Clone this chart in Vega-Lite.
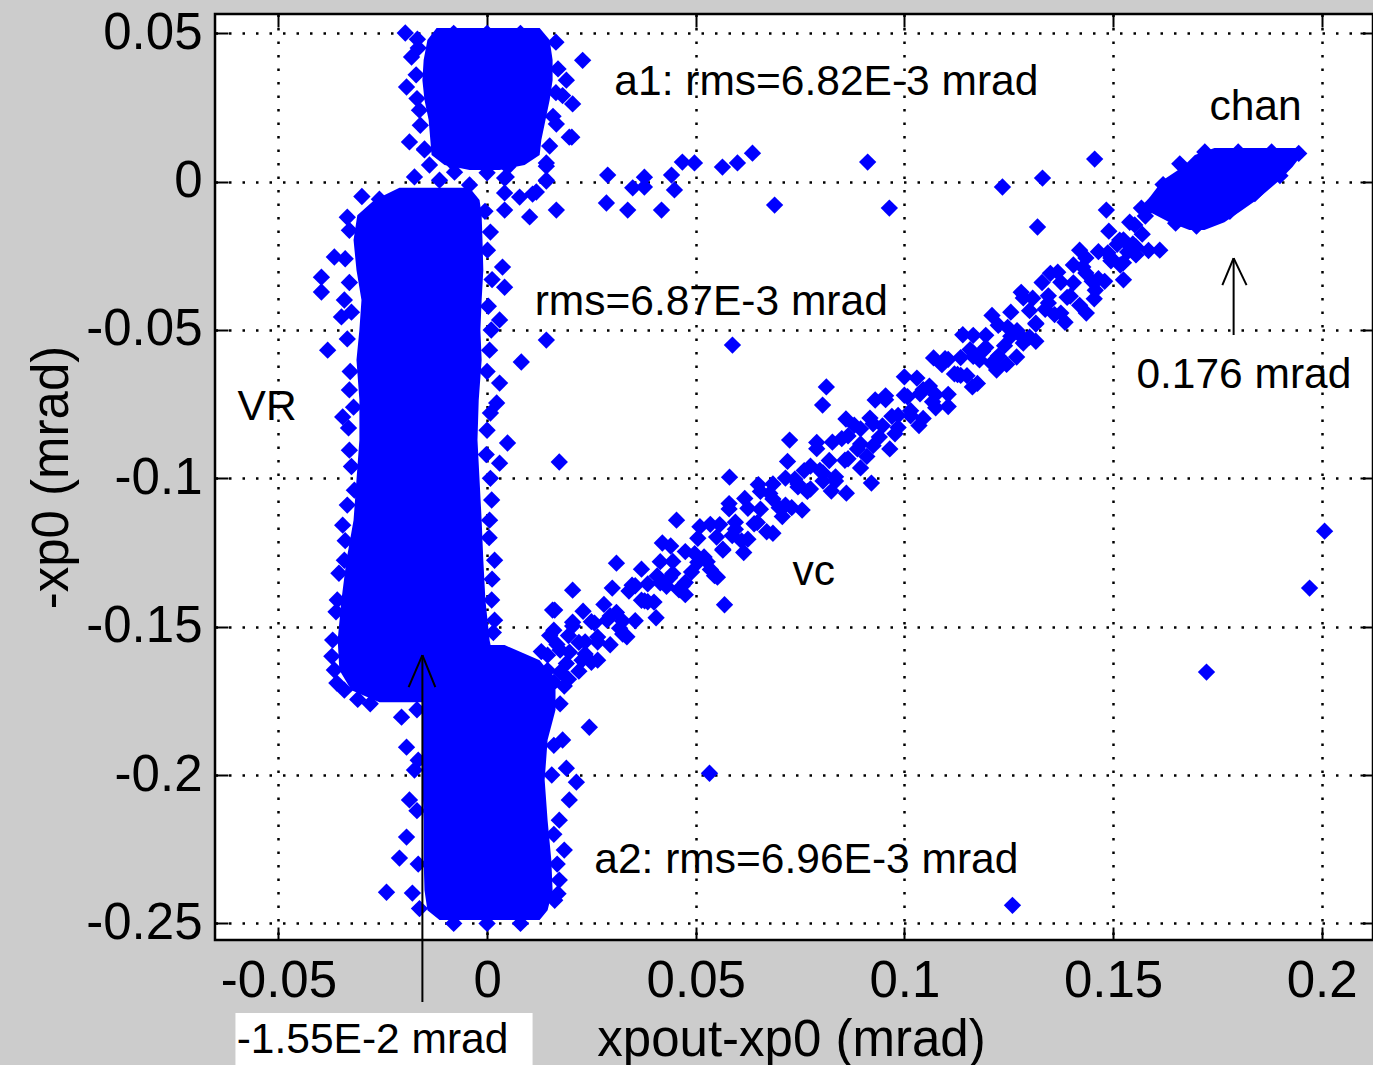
{
  "$schema": "https://vega.github.io/schema/vega-lite/v6.json",
  "width": 1158,
  "height": 926,
  "autosize": {"type": "none"},
  "padding": {"left": 215, "top": 14, "right": 0, "bottom": 125},
  "background": "#cccccc",
  "config": {
    "view": {"stroke": "black", "strokeWidth": 2.5, "fill": "white"}
  },
  "datasets": {
    "core": [
      {"blob": "a1", "y": 0.0518, "xl": -0.0121, "xr": 0.0126},
      {"blob": "a1", "y": 0.0477, "xl": -0.0143, "xr": 0.0150},
      {"blob": "a1", "y": 0.0410, "xl": -0.0152, "xr": 0.0157},
      {"blob": "a1", "y": 0.0342, "xl": -0.0155, "xr": 0.0157},
      {"blob": "a1", "y": 0.0275, "xl": -0.0150, "xr": 0.0150},
      {"blob": "a1", "y": 0.0208, "xl": -0.0140, "xr": 0.0140},
      {"blob": "a1", "y": 0.0140, "xl": -0.0136, "xr": 0.0130},
      {"blob": "a1", "y": 0.0090, "xl": -0.0133, "xr": 0.0126},
      {"blob": "a1", "y": 0.0056, "xl": -0.0102, "xr": 0.0090},
      {"blob": "a1", "y": 0.0039, "xl": -0.0042, "xr": 0.0030},
      {"blob": "vr", "y": -0.0021, "xl": -0.0210, "xr": -0.0042},
      {"blob": "vr", "y": -0.0062, "xl": -0.0270, "xr": -0.0018},
      {"blob": "vr", "y": -0.0113, "xl": -0.0311, "xr": -0.0013},
      {"blob": "vr", "y": -0.0197, "xl": -0.0320, "xr": -0.0011},
      {"blob": "vr", "y": -0.0298, "xl": -0.0313, "xr": -0.0009},
      {"blob": "vr", "y": -0.0399, "xl": -0.0301, "xr": -0.0013},
      {"blob": "vr", "y": -0.0500, "xl": -0.0306, "xr": -0.0016},
      {"blob": "vr", "y": -0.0601, "xl": -0.0313, "xr": -0.0013},
      {"blob": "vr", "y": -0.0736, "xl": -0.0306, "xr": -0.0020},
      {"blob": "vr", "y": -0.0871, "xl": -0.0306, "xr": -0.0023},
      {"blob": "vr", "y": -0.1006, "xl": -0.0313, "xr": -0.0018},
      {"blob": "vr", "y": -0.1141, "xl": -0.0320, "xr": -0.0013},
      {"blob": "vr", "y": -0.1276, "xl": -0.0337, "xr": -0.0009},
      {"blob": "vr", "y": -0.1410, "xl": -0.0349, "xr": -0.0004},
      {"blob": "vr", "y": -0.1545, "xl": -0.0358, "xr": 0.0006},
      {"blob": "vr", "y": -0.1646, "xl": -0.0354, "xr": 0.0020},
      {"blob": "vr", "y": -0.1714, "xl": -0.0325, "xr": 0.0025},
      {"blob": "vr", "y": -0.1755, "xl": -0.0258, "xr": -0.0042},
      {"blob": "a2", "y": -0.1562, "xl": -0.0006, "xr": 0.0042},
      {"blob": "a2", "y": -0.1613, "xl": -0.0018, "xr": 0.0126},
      {"blob": "a2", "y": -0.1663, "xl": -0.0042, "xr": 0.0154},
      {"blob": "a2", "y": -0.1714, "xl": -0.0152, "xr": 0.0164},
      {"blob": "a2", "y": -0.1781, "xl": -0.0155, "xr": 0.0164},
      {"blob": "a2", "y": -0.1882, "xl": -0.0155, "xr": 0.0145},
      {"blob": "a2", "y": -0.2017, "xl": -0.0155, "xr": 0.0138},
      {"blob": "a2", "y": -0.2152, "xl": -0.0152, "xr": 0.0145},
      {"blob": "a2", "y": -0.2287, "xl": -0.0152, "xr": 0.0154},
      {"blob": "a2", "y": -0.2388, "xl": -0.0150, "xr": 0.0157},
      {"blob": "a2", "y": -0.2456, "xl": -0.0143, "xr": 0.0145},
      {"blob": "a2", "y": -0.2489, "xl": -0.0114, "xr": 0.0126},
      {"blob": "chan", "y": 0.0113, "xl": 0.1743, "xr": 0.1943},
      {"blob": "chan", "y": 0.0090, "xl": 0.1696, "xr": 0.1952},
      {"blob": "chan", "y": 0.0049, "xl": 0.1667, "xr": 0.1930},
      {"blob": "chan", "y": 0.0005, "xl": 0.1619, "xr": 0.1899},
      {"blob": "chan", "y": -0.0062, "xl": 0.1583, "xr": 0.1844},
      {"blob": "chan", "y": -0.0102, "xl": 0.1588, "xr": 0.1803},
      {"blob": "chan", "y": -0.0137, "xl": 0.1635, "xr": 0.1767},
      {"blob": "chan", "y": -0.0163, "xl": 0.1683, "xr": 0.1719}
    ],
    "pts": [
      {"x": 0.0130, "y": -0.1584}, {"x": 0.0145, "y": -0.1647}, {"x": 0.0160, "y": -0.1688}, {"x": 0.0175, "y": -0.1579},
      {"x": 0.0190, "y": -0.1624}, {"x": 0.0205, "y": -0.1485}, {"x": 0.0220, "y": -0.1553}, {"x": 0.0235, "y": -0.1592},
      {"x": 0.0250, "y": -0.1483}, {"x": 0.0265, "y": -0.1535}, {"x": 0.0280, "y": -0.1425}, {"x": 0.0295, "y": -0.1561},
      {"x": 0.0310, "y": -0.1452}, {"x": 0.0325, "y": -0.1481}, {"x": 0.0340, "y": -0.1380}, {"x": 0.0355, "y": -0.1480},
      {"x": 0.0370, "y": -0.1411}, {"x": 0.0385, "y": -0.1356}, {"x": 0.0400, "y": -0.1417}, {"x": 0.0415, "y": -0.1281},
      {"x": 0.0430, "y": -0.1364}, {"x": 0.0445, "y": -0.1321}, {"x": 0.0460, "y": -0.1376}, {"x": 0.0475, "y": -0.1247},
      {"x": 0.0490, "y": -0.1316}, {"x": 0.0505, "y": -0.1202}, {"x": 0.0520, "y": -0.1265}, {"x": 0.0535, "y": -0.1307},
      {"x": 0.0550, "y": -0.1198}, {"x": 0.0565, "y": -0.1242}, {"x": 0.0580, "y": -0.1103}, {"x": 0.0595, "y": -0.1172},
      {"x": 0.0610, "y": -0.1211}, {"x": 0.0625, "y": -0.1101}, {"x": 0.0640, "y": -0.1153}, {"x": 0.0655, "y": -0.1044},
      {"x": 0.0670, "y": -0.1180}, {"x": 0.0685, "y": -0.1070}, {"x": 0.0700, "y": -0.1099}, {"x": 0.0715, "y": -0.0999},
      {"x": 0.0730, "y": -0.1099}, {"x": 0.0745, "y": -0.1029}, {"x": 0.0760, "y": -0.0974}, {"x": 0.0775, "y": -0.1036},
      {"x": 0.0790, "y": -0.0900}, {"x": 0.0805, "y": -0.0982}, {"x": 0.0820, "y": -0.0940}, {"x": 0.0835, "y": -0.0995},
      {"x": 0.0850, "y": -0.0866}, {"x": 0.0865, "y": -0.0934}, {"x": 0.0880, "y": -0.0821}, {"x": 0.0895, "y": -0.0884},
      {"x": 0.0910, "y": -0.0926}, {"x": 0.0925, "y": -0.0816}, {"x": 0.0940, "y": -0.0861}, {"x": 0.0955, "y": -0.0722},
      {"x": 0.0970, "y": -0.0791}, {"x": 0.0985, "y": -0.0829}, {"x": 0.1000, "y": -0.0720}, {"x": 0.1015, "y": -0.0772},
      {"x": 0.1030, "y": -0.0662}, {"x": 0.1045, "y": -0.0798}, {"x": 0.1060, "y": -0.0689}, {"x": 0.1075, "y": -0.0718},
      {"x": 0.1090, "y": -0.0617}, {"x": 0.1105, "y": -0.0717}, {"x": 0.1120, "y": -0.0648}, {"x": 0.1135, "y": -0.0593},
      {"x": 0.1150, "y": -0.0654}, {"x": 0.1165, "y": -0.0518}, {"x": 0.1180, "y": -0.0601}, {"x": 0.1195, "y": -0.0559},
      {"x": 0.1210, "y": -0.0613}, {"x": 0.1225, "y": -0.0484}, {"x": 0.1240, "y": -0.0553}, {"x": 0.1255, "y": -0.0440},
      {"x": 0.1270, "y": -0.0502}, {"x": 0.1285, "y": -0.0544}, {"x": 0.1300, "y": -0.0435}, {"x": 0.1315, "y": -0.0480},
      {"x": 0.1330, "y": -0.0340}, {"x": 0.1345, "y": -0.0409}, {"x": 0.1360, "y": -0.0448}, {"x": 0.1375, "y": -0.0339},
      {"x": 0.1390, "y": -0.0390}, {"x": 0.1405, "y": -0.0281}, {"x": 0.1420, "y": -0.0417}, {"x": 0.1435, "y": -0.0308},
      {"x": 0.1450, "y": -0.0336}, {"x": 0.1465, "y": -0.0236}, {"x": 0.1480, "y": -0.0336}, {"x": 0.1495, "y": -0.0267},
      {"x": 0.1510, "y": -0.0211}, {"x": 0.1525, "y": -0.0273}, {"x": 0.1540, "y": -0.0137}, {"x": 0.1555, "y": -0.0220},
      {"x": 0.1570, "y": -0.0177}, {"x": 0.1585, "y": -0.0232},
      {"x": 0.01375, "y": -0.1664}, {"x": 0.01675, "y": -0.1560}, {"x": 0.01975, "y": -0.1586}, {"x": 0.02275, "y": -0.1613},
      {"x": 0.02575, "y": -0.1488}, {"x": 0.02875, "y": -0.1478}, {"x": 0.03175, "y": -0.1505}, {"x": 0.03475, "y": -0.1360},
      {"x": 0.03775, "y": -0.1413}, {"x": 0.04075, "y": -0.1329}, {"x": 0.04375, "y": -0.1335}, {"x": 0.04675, "y": -0.1363},
      {"x": 0.04975, "y": -0.1254}, {"x": 0.05275, "y": -0.1281}, {"x": 0.05575, "y": -0.1156}, {"x": 0.05875, "y": -0.1193},
      {"x": 0.06175, "y": -0.1068}, {"x": 0.06475, "y": -0.1149}, {"x": 0.06775, "y": -0.1051}, {"x": 0.07075, "y": -0.1129},
      {"x": 0.07375, "y": -0.1003}, {"x": 0.07675, "y": -0.1044}, {"x": 0.07975, "y": -0.0973}, {"x": 0.08275, "y": -0.0878},
      {"x": 0.08575, "y": -0.0939}, {"x": 0.08875, "y": -0.0901}, {"x": 0.09175, "y": -0.0797}, {"x": 0.09475, "y": -0.0823},
      {"x": 0.09775, "y": -0.0850}, {"x": 0.10075, "y": -0.0725}, {"x": 0.10375, "y": -0.0715}, {"x": 0.10675, "y": -0.0742},
      {"x": 0.10975, "y": -0.0597}, {"x": 0.11275, "y": -0.0650}, {"x": 0.11575, "y": -0.0566}, {"x": 0.11875, "y": -0.0572},
      {"x": 0.12175, "y": -0.0600}, {"x": 0.12475, "y": -0.0491}, {"x": 0.12775, "y": -0.0518}, {"x": 0.13075, "y": -0.0393},
      {"x": 0.13375, "y": -0.0430}, {"x": 0.13675, "y": -0.0305}, {"x": 0.13975, "y": -0.0386}, {"x": 0.14275, "y": -0.0288},
      {"x": 0.14575, "y": -0.0366}, {"x": 0.14875, "y": -0.0240}, {"x": 0.15175, "y": -0.0281}, {"x": 0.15475, "y": -0.0210},
      {"x": 0.15775, "y": -0.0116},
      {"x": 0.0145, "y": -0.1596}, {"x": 0.0175, "y": -0.1653}, {"x": 0.0205, "y": -0.1498}, {"x": 0.0235, "y": -0.1551},
      {"x": 0.0265, "y": -0.1552}, {"x": 0.0295, "y": -0.1464}, {"x": 0.0325, "y": -0.1525}, {"x": 0.0355, "y": -0.1362},
      {"x": 0.0385, "y": -0.1416}, {"x": 0.0415, "y": -0.1352}, {"x": 0.0445, "y": -0.1280}, {"x": 0.0475, "y": -0.1351},
      {"x": 0.0505, "y": -0.1283}, {"x": 0.0535, "y": -0.1155}, {"x": 0.0565, "y": -0.1239}, {"x": 0.0595, "y": -0.1148},
      {"x": 0.0625, "y": -0.1205}, {"x": 0.0655, "y": -0.1104}, {"x": 0.0685, "y": -0.1019}, {"x": 0.0715, "y": -0.1090},
      {"x": 0.0745, "y": -0.1019}, {"x": 0.0775, "y": -0.0959}, {"x": 0.0805, "y": -0.1009}, {"x": 0.0835, "y": -0.1009},
      {"x": 0.0865, "y": -0.0857}, {"x": 0.0895, "y": -0.0833}, {"x": 0.0925, "y": -0.0890}, {"x": 0.0955, "y": -0.0735},
      {"x": 0.0985, "y": -0.0788}, {"x": 0.1015, "y": -0.0789}, {"x": 0.1045, "y": -0.0701}, {"x": 0.1075, "y": -0.0762},
      {"x": 0.1105, "y": -0.0599}, {"x": 0.1135, "y": -0.0653}, {"x": 0.1165, "y": -0.0589}, {"x": 0.1195, "y": -0.0518},
      {"x": 0.1225, "y": -0.0588}, {"x": 0.1255, "y": -0.0521}, {"x": 0.1285, "y": -0.0392}, {"x": 0.1315, "y": -0.0477},
      {"x": 0.1345, "y": -0.0385}, {"x": 0.1375, "y": -0.0443}, {"x": 0.1405, "y": -0.0341}, {"x": 0.1435, "y": -0.0257},
      {"x": 0.1465, "y": -0.0327}, {"x": 0.1495, "y": -0.0257}, {"x": 0.1525, "y": -0.0196}, {"x": 0.1555, "y": -0.0247},
      {"x": 0.0160, "y": -0.1512}, {"x": 0.0195, "y": -0.1677}, {"x": 0.0230, "y": -0.1448}, {"x": 0.0265, "y": -0.1613},
      {"x": 0.0300, "y": -0.1370}, {"x": 0.0335, "y": -0.1534}, {"x": 0.0370, "y": -0.1306}, {"x": 0.0405, "y": -0.1470},
      {"x": 0.0440, "y": -0.1228}, {"x": 0.0475, "y": -0.1392}, {"x": 0.0510, "y": -0.1163}, {"x": 0.0545, "y": -0.1328},
      {"x": 0.0580, "y": -0.1085}, {"x": 0.0615, "y": -0.1250}, {"x": 0.0650, "y": -0.1021}, {"x": 0.0685, "y": -0.1185},
      {"x": 0.0720, "y": -0.0943}, {"x": 0.0755, "y": -0.1107}, {"x": 0.0790, "y": -0.0879}, {"x": 0.0825, "y": -0.1043},
      {"x": 0.0860, "y": -0.0800}, {"x": 0.0895, "y": -0.0965}, {"x": 0.0930, "y": -0.0736}, {"x": 0.0965, "y": -0.0901},
      {"x": 0.1000, "y": -0.0658}, {"x": 0.1035, "y": -0.0822}, {"x": 0.1070, "y": -0.0594}, {"x": 0.1105, "y": -0.0758},
      {"x": 0.1140, "y": -0.0516}, {"x": 0.1175, "y": -0.0680}, {"x": 0.1210, "y": -0.0451}, {"x": 0.1245, "y": -0.0616},
      {"x": 0.1280, "y": -0.0373}, {"x": 0.1315, "y": -0.0538}, {"x": 0.1350, "y": -0.0309}, {"x": 0.1385, "y": -0.0474},
      {"x": 0.1420, "y": -0.0231}, {"x": 0.1455, "y": -0.0395}, {"x": 0.1490, "y": -0.0167}, {"x": 0.1525, "y": -0.0331},
      {"x": 0.0150, "y": -0.1530}, {"x": 0.0185, "y": -0.1700}, {"x": 0.0220, "y": -0.1650}, {"x": 0.0250, "y": -0.1620},
      {"x": 0.0120, "y": -0.1650}, {"x": 0.0100, "y": -0.1700}, {"x": 0.0130, "y": -0.1720}, {"x": 0.0195, "y": -0.1530},
      {"x": 0.0552, "y": -0.1333}, {"x": 0.0569, "y": -0.1426}, {"x": 0.0420, "y": -0.1218}, {"x": 0.0454, "y": -0.1141},
      {"x": 0.0310, "y": -0.1286}, {"x": 0.0205, "y": -0.1377}, {"x": 0.0162, "y": -0.1444}, {"x": 0.0861, "y": -0.1050},
      {"x": 0.0921, "y": -0.1016}, {"x": 0.0725, "y": -0.0871}, {"x": 0.0581, "y": -0.0996}, {"x": 0.0813, "y": -0.0692},
      {"x": 0.0804, "y": -0.0753},
      {"x": 0.1456, "y": 0.0076}, {"x": 0.1331, "y": 0.0012}, {"x": 0.1235, "y": -0.0018}, {"x": 0.0964, "y": -0.0089},
      {"x": 0.1319, "y": -0.0153}, {"x": 0.1484, "y": -0.0096}, {"x": 0.1568, "y": -0.0089}, {"x": 0.1300, "y": -0.0524},
      {"x": 0.1269, "y": -0.0591}, {"x": 0.1221, "y": -0.0635}, {"x": 0.1163, "y": -0.0692}, {"x": 0.1436, "y": -0.0443},
      {"x": 0.1516, "y": -0.0197}, {"x": 0.1552, "y": -0.0146}, {"x": 0.1612, "y": -0.0231}, {"x": 0.1535, "y": -0.0237},
      {"x": 0.0203, "y": 0.0150}, {"x": 0.0142, "y": 0.0063}, {"x": 0.0142, "y": 0.0005}, {"x": 0.0118, "y": -0.0035},
      {"x": 0.0078, "y": -0.0052}, {"x": 0.0042, "y": 0.0012}, {"x": 0.0042, "y": -0.0038}, {"x": 0.0042, "y": -0.0096},
      {"x": 0.0102, "y": -0.0119}, {"x": 0.0166, "y": -0.0096}, {"x": 0.0289, "y": 0.0022}, {"x": 0.0286, "y": -0.0072},
      {"x": 0.0337, "y": -0.0096}, {"x": 0.0349, "y": -0.0021}, {"x": 0.0377, "y": 0.0015}, {"x": 0.0377, "y": -0.0018},
      {"x": 0.0418, "y": -0.0096}, {"x": 0.0442, "y": 0.0022}, {"x": 0.0449, "y": -0.0028}, {"x": 0.0468, "y": 0.0066},
      {"x": 0.0497, "y": 0.0063}, {"x": 0.0564, "y": 0.0049}, {"x": 0.0600, "y": 0.0063}, {"x": 0.0636, "y": 0.0096},
      {"x": 0.0689, "y": -0.0079}, {"x": 0.0912, "y": 0.0066},
      {"x": 0.0142, "y": -0.0534}, {"x": 0.0082, "y": -0.0608}, {"x": 0.0173, "y": -0.0945}, {"x": 0.0588, "y": -0.0551},
      {"x": 0.0245, "y": -0.1839}, {"x": 0.0533, "y": -0.1994}, {"x": 0.1259, "y": -0.2439}, {"x": 0.1724, "y": -0.1653},
      {"x": 0.1971, "y": -0.1370}, {"x": 0.2007, "y": -0.1178}, {"x": 0.0214, "y": -0.2024}, {"x": 0.0190, "y": -0.1977},
      {"x": 0.0181, "y": -0.1882}, {"x": 0.0157, "y": -0.1444},
      {"x": -0.0397, "y": -0.0322}, {"x": -0.0397, "y": -0.0372}, {"x": -0.0366, "y": -0.0254}, {"x": -0.0349, "y": -0.0456},
      {"x": -0.0382, "y": -0.0568}, {"x": -0.0330, "y": -0.0702}, {"x": -0.0346, "y": -0.0793}, {"x": -0.0346, "y": -0.1158},
      {"x": -0.0318, "y": -0.1040}, {"x": -0.0330, "y": -0.0164}, {"x": -0.0342, "y": -0.0399}, {"x": -0.0330, "y": -0.0905},
      {"x": -0.0342, "y": -0.1276}, {"x": -0.0359, "y": -0.1410}, {"x": -0.0370, "y": -0.1545}, {"x": -0.0366, "y": -0.1646},
      {"x": -0.0342, "y": -0.1714},
      {"x": -0.0300, "y": -0.0050}, {"x": -0.0335, "y": -0.0120}, {"x": -0.0340, "y": -0.0260}, {"x": -0.0330, "y": -0.0340},
      {"x": -0.0325, "y": -0.0440}, {"x": -0.0335, "y": -0.0530}, {"x": -0.0328, "y": -0.0640}, {"x": -0.0320, "y": -0.0760},
      {"x": -0.0332, "y": -0.0830}, {"x": -0.0325, "y": -0.0960}, {"x": -0.0335, "y": -0.1090}, {"x": -0.0340, "y": -0.1210},
      {"x": -0.0355, "y": -0.1320}, {"x": -0.0362, "y": -0.1450}, {"x": -0.0372, "y": -0.1600}, {"x": -0.0360, "y": -0.1690},
      {"x": -0.0310, "y": -0.1745}, {"x": -0.0280, "y": -0.1760},
      {"x": -0.0005, "y": -0.0100}, {"x": 0.0008, "y": -0.0170}, {"x": 0.0012, "y": -0.0330}, {"x": 0.0003, "y": -0.0420},
      {"x": 0.0010, "y": -0.0500}, {"x": 0.0000, "y": -0.0640}, {"x": 0.0008, "y": -0.0780}, {"x": -0.0002, "y": -0.0920},
      {"x": 0.0008, "y": -0.1000}, {"x": 0.0005, "y": -0.1200}, {"x": 0.0012, "y": -0.1340}, {"x": 0.0015, "y": -0.1520},
      {"x": 0.0037, "y": -0.0288}, {"x": 0.0042, "y": -0.0356}, {"x": 0.0030, "y": -0.0466}, {"x": 0.0030, "y": -0.0679},
      {"x": 0.0023, "y": -0.0746}, {"x": 0.0049, "y": -0.0881}, {"x": 0.0030, "y": -0.0949}, {"x": 0.0006, "y": -0.1141},
      {"x": 0.0018, "y": -0.1276}, {"x": 0.0011, "y": -0.1410}, {"x": 0.0001, "y": -0.0231}, {"x": 0.0006, "y": -0.0568},
      {"x": 0.0000, "y": -0.0838}, {"x": 0.0011, "y": -0.1073}, {"x": 0.0018, "y": -0.1478},
      {"x": -0.0241, "y": -0.2395}, {"x": -0.0210, "y": -0.2280}, {"x": -0.0193, "y": -0.2209}, {"x": -0.0193, "y": -0.1906},
      {"x": -0.0205, "y": -0.1805}, {"x": -0.0179, "y": -0.2398}, {"x": -0.0186, "y": -0.2084}, {"x": -0.0174, "y": -0.1983},
      {"x": -0.0168, "y": -0.1780}, {"x": -0.0165, "y": -0.1950}, {"x": -0.0168, "y": -0.2120}, {"x": -0.0165, "y": -0.2300},
      {"x": -0.0162, "y": -0.2450},
      {"x": 0.0173, "y": -0.2152}, {"x": 0.0185, "y": -0.2253}, {"x": 0.0173, "y": -0.2354}, {"x": 0.0162, "y": -0.2422},
      {"x": 0.0197, "y": -0.2084}, {"x": 0.0175, "y": -0.1760}, {"x": 0.0160, "y": -0.1900}, {"x": 0.0155, "y": -0.2000},
      {"x": 0.0160, "y": -0.2200}, {"x": 0.0168, "y": -0.2300}, {"x": 0.0170, "y": -0.2400},
      {"x": -0.0080, "y": -0.2500}, {"x": 0.0000, "y": -0.2500}, {"x": 0.0080, "y": -0.2500},
      {"x": -0.0196, "y": 0.0501}, {"x": -0.0167, "y": 0.0480}, {"x": -0.0181, "y": 0.0420}, {"x": -0.0193, "y": 0.0319},
      {"x": -0.0186, "y": 0.0134}, {"x": 0.0229, "y": 0.0409}, {"x": 0.0190, "y": 0.0342}, {"x": 0.0181, "y": 0.0290},
      {"x": 0.0205, "y": 0.0262}, {"x": 0.0197, "y": 0.0150}, {"x": 0.0166, "y": 0.0194}, {"x": 0.0142, "y": 0.0052},
      {"x": 0.0142, "y": 0.0002}, {"x": 0.0109, "y": -0.0042}, {"x": 0.0046, "y": 0.0016}, {"x": -0.0174, "y": 0.0016},
      {"x": -0.0258, "y": -0.0059}, {"x": -0.0162, "y": 0.0241}, {"x": -0.0150, "y": 0.0107}, {"x": -0.0138, "y": 0.0056},
      {"x": -0.0114, "y": 0.0005}, {"x": -0.0078, "y": 0.0032}, {"x": -0.0042, "y": -0.0011},
      {"x": -0.0165, "y": 0.0450}, {"x": -0.0170, "y": 0.0360}, {"x": -0.0168, "y": 0.0280}, {"x": -0.0160, "y": 0.0190},
      {"x": -0.0150, "y": 0.0110}, {"x": 0.0165, "y": 0.0470}, {"x": 0.0170, "y": 0.0380}, {"x": 0.0165, "y": 0.0300},
      {"x": 0.0158, "y": 0.0220}, {"x": 0.0150, "y": 0.0120}, {"x": -0.0080, "y": 0.0500}, {"x": 0.0000, "y": 0.0500},
      {"x": 0.0080, "y": 0.0500}, {"x": -0.0080, "y": 0.0060}, {"x": 0.0050, "y": 0.0050}, {"x": 0.0000, "y": 0.0030},
      {"x": 0.1590, "y": -0.0080}, {"x": 0.1620, "y": -0.0010}, {"x": 0.1660, "y": 0.0060}, {"x": 0.1720, "y": 0.0100},
      {"x": 0.1800, "y": 0.0100}, {"x": 0.1880, "y": 0.0100}, {"x": 0.1945, "y": 0.0095}, {"x": 0.1900, "y": 0.0020},
      {"x": 0.1840, "y": -0.0040}, {"x": 0.1780, "y": -0.0100}, {"x": 0.1700, "y": -0.0150}, {"x": 0.1650, "y": -0.0140}
    ],
    "notes": [
      {"t": "a1: rms=6.82E-3 mrad", "x": 0.0305, "y": 0.0292},
      {"t": "chan", "x": 0.1731, "y": 0.0208},
      {"t": "rms=6.87E-3 mrad", "x": 0.0114, "y": -0.0450},
      {"t": "0.176 mrad", "x": 0.1556, "y": -0.0696},
      {"t": "VR", "x": -0.0598, "y": -0.0804},
      {"t": "vc", "x": 0.0732, "y": -0.1360},
      {"t": "a2: rms=6.96E-3 mrad", "x": 0.0257, "y": -0.2331}
    ],
    "arrows": [
      {"x": -0.0155, "y": -0.2765, "x2": -0.0155, "y2": -0.1596},
      {"x": -0.0155, "y": -0.1596, "x2": -0.0188, "y2": -0.1704},
      {"x": -0.0155, "y": -0.1596, "x2": -0.0124, "y2": -0.1704},
      {"x": 0.1789, "y": -0.0517, "x2": 0.1789, "y2": -0.0258},
      {"x": 0.1789, "y": -0.0258, "x2": 0.1762, "y2": -0.0349},
      {"x": 0.1789, "y": -0.0258, "x2": 0.1820, "y2": -0.0349}
    ],
    "box": [
      {"t": "-1.55E-2 mrad", "x": -0.0603, "x2": 0.0109, "y": -0.2802, "y2": -0.3000, "tx": -0.0600, "ty": -0.2937}
    ]
  },
  "resolve": {"axis": {"x": "independent", "y": "independent"}},
  "layer": [
    {
      "data": {"name": "core"},
      "mark": {"type": "area", "orient": "horizontal", "color": "#0000ff", "opacity": 1},
      "encoding": {
        "y": {"field": "y", "type": "quantitative",
          "scale": {"domain": [-0.2556, 0.0565], "nice": false, "zero": false},
          "axis": {"orient": "left", "values": [-0.25, -0.2, -0.15, -0.1, -0.05, 0, 0.05], "format": "~g",
            "labelExpr": "replace(datum.label, '\u2212', '-')",
            "grid": true, "gridColor": "black", "gridDash": [2.5, 11], "gridWidth": 2.5, "gridOpacity": 1,
            "domain": false, "ticks": true, "tickSize": -13, "tickColor": "black", "tickWidth": 2,
            "labelPadding": 26, "labelFont": "Liberation Sans", "labelFontSize": 51, "labelColor": "black",
            "labelFlush": false, "labelOverlap": false, "labelBaseline": "middle",
            "title": "-xp0 (mrad)", "titleFont": "Liberation Sans", "titleFontSize": 51, "titleFontWeight": "normal",
            "titleColor": "black", "titleX": -148, "titleY": 463, "titleAngle": 270, "titleBaseline": "alphabetic", "titleAlign": "center"}},
        "x": {"field": "xl", "type": "quantitative",
          "scale": {"domain": [-0.0652, 0.2123], "nice": false, "zero": false},
          "axis": {"orient": "bottom", "values": [-0.05, 0, 0.05, 0.1, 0.15, 0.2], "format": "~g",
            "labelExpr": "replace(datum.label, '\u2212', '-')",
            "grid": true, "gridColor": "black", "gridDash": [2.5, 11], "gridWidth": 2.5, "gridOpacity": 1,
            "domain": false, "ticks": true, "tickSize": -13, "tickColor": "black", "tickWidth": 2,
            "labelPadding": 29, "labelFont": "Liberation Sans", "labelFontSize": 51, "labelColor": "black",
            "labelFlush": false, "labelOverlap": false,
            "title": "xpout-xp0 (mrad)", "titleFont": "Liberation Sans", "titleFontSize": 51, "titleFontWeight": "normal",
            "titleColor": "black", "titleX": 576, "titleY": 115, "titleBaseline": "alphabetic", "titleAlign": "center"}},
        "x2": {"field": "xr"},
        "detail": {"field": "blob", "type": "nominal"}
      }
    },
    {
      "data": {"name": "pts"},
      "mark": {"type": "point", "shape": "diamond", "filled": true, "size": 300, "color": "#0000ff", "opacity": 1, "strokeWidth": 0},
      "encoding": {
        "x": {"field": "x", "type": "quantitative",
          "scale": {"domain": [-0.0652, 0.2123], "nice": false, "zero": false},
          "axis": {"orient": "top", "values": [-0.05, 0, 0.05, 0.1, 0.15, 0.2], "labels": false, "grid": false,
            "domain": false, "ticks": true, "tickSize": -13, "tickColor": "black", "tickWidth": 2, "title": null}},
        "y": {"field": "y", "type": "quantitative",
          "scale": {"domain": [-0.2556, 0.0565], "nice": false, "zero": false},
          "axis": {"orient": "right", "values": [-0.25, -0.2, -0.15, -0.1, -0.05, 0, 0.05], "labels": false, "grid": false,
            "domain": false, "ticks": true, "tickSize": -13, "tickColor": "black", "tickWidth": 2, "title": null}}
      }
    },
    {
      "data": {"name": "arrows"},
      "mark": {"type": "rule", "color": "black", "strokeWidth": 2},
      "encoding": {
        "x": {"field": "x", "type": "quantitative", "scale": {"domain": [-0.0652, 0.2123], "nice": false, "zero": false}, "axis": null},
        "y": {"field": "y", "type": "quantitative", "scale": {"domain": [-0.2556, 0.0565], "nice": false, "zero": false}, "axis": null},
        "x2": {"field": "x2"},
        "y2": {"field": "y2"}
      }
    },
    {
      "data": {"name": "notes"},
      "mark": {"type": "text", "align": "left", "baseline": "alphabetic", "font": "Liberation Sans", "fontSize": 42.5, "color": "black"},
      "encoding": {
        "x": {"field": "x", "type": "quantitative", "scale": {"domain": [-0.0652, 0.2123], "nice": false, "zero": false}, "axis": null},
        "y": {"field": "y", "type": "quantitative", "scale": {"domain": [-0.2556, 0.0565], "nice": false, "zero": false}, "axis": null},
        "text": {"field": "t"}
      }
    },
    {
      "data": {"name": "box"},
      "mark": {"type": "rect", "color": "white", "opacity": 1},
      "encoding": {
        "x": {"field": "x", "type": "quantitative", "scale": {"domain": [-0.0652, 0.2123], "nice": false, "zero": false}, "axis": null},
        "y": {"field": "y", "type": "quantitative", "scale": {"domain": [-0.2556, 0.0565], "nice": false, "zero": false}, "axis": null},
        "x2": {"field": "x2"},
        "y2": {"field": "y2"}
      }
    },
    {
      "data": {"name": "box"},
      "mark": {"type": "text", "align": "left", "baseline": "alphabetic", "font": "Liberation Sans", "fontSize": 42.5, "color": "black"},
      "encoding": {
        "x": {"field": "tx", "type": "quantitative", "scale": {"domain": [-0.0652, 0.2123], "nice": false, "zero": false}, "axis": null},
        "y": {"field": "ty", "type": "quantitative", "scale": {"domain": [-0.2556, 0.0565], "nice": false, "zero": false}, "axis": null},
        "text": {"field": "t"}
      }
    }
  ]
}
